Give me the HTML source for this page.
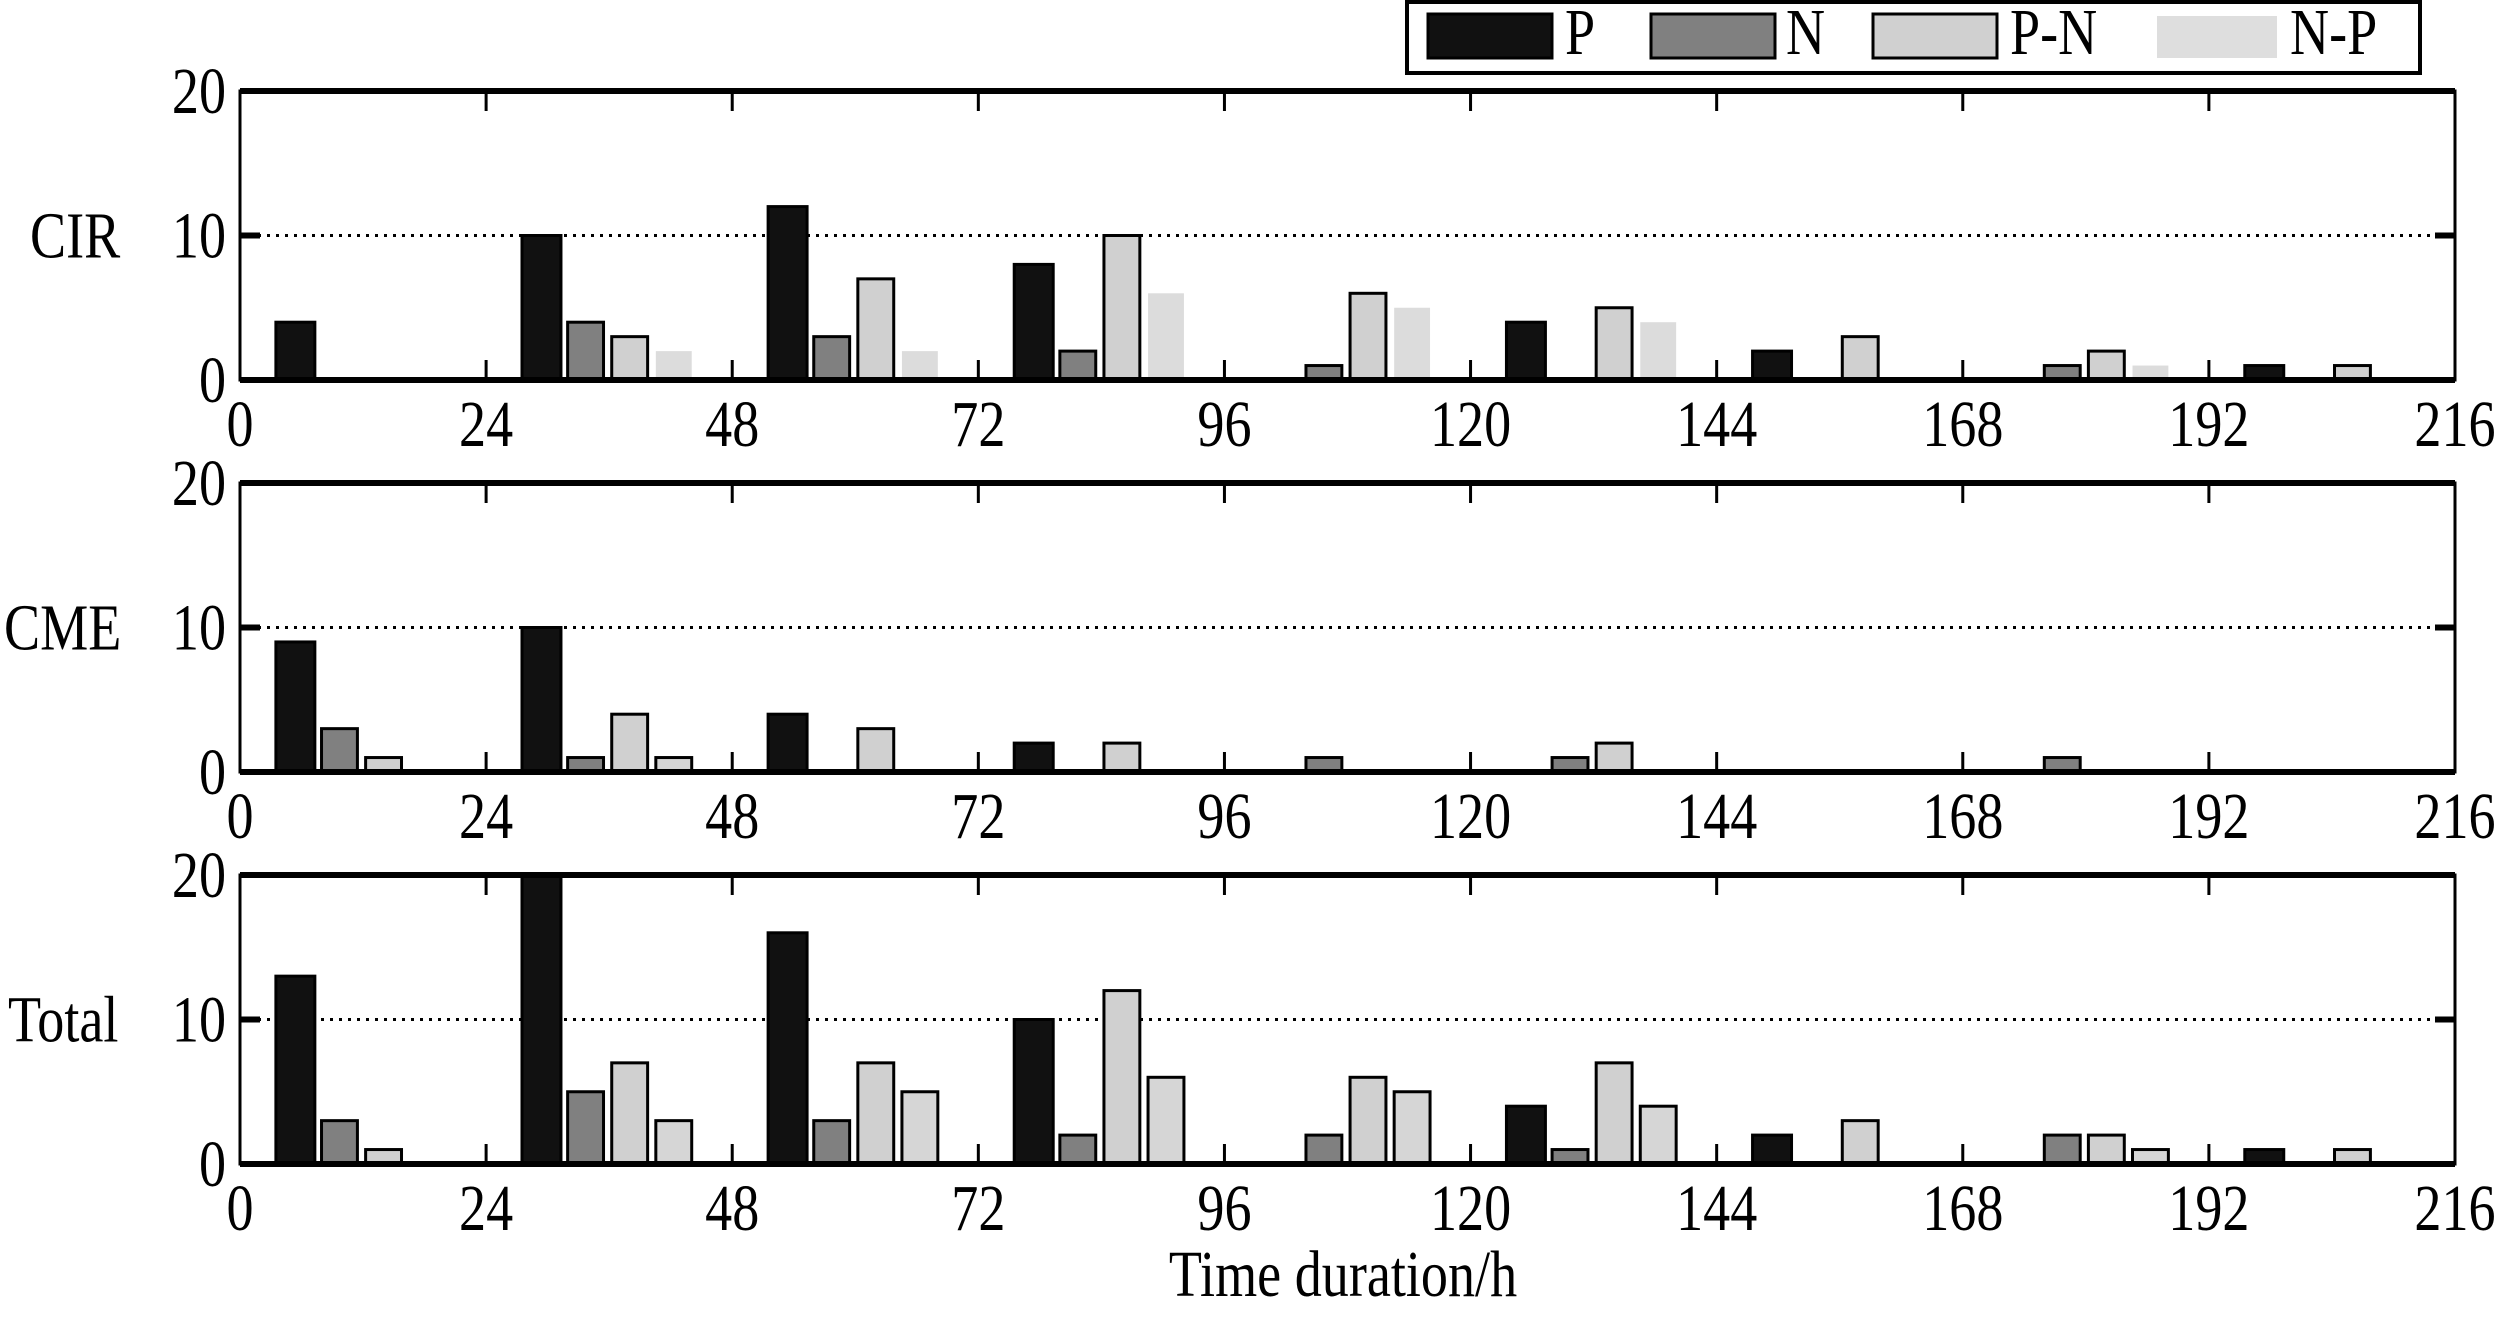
<!DOCTYPE html>
<html><head><meta charset="utf-8"><style>
html,body{margin:0;padding:0;background:#fff;}
svg{display:block;font-family:"Liberation Serif",serif;}
</style></head><body>
<svg id="chart" width="2506" height="1318" viewBox="0 0 2506 1318" xmlns="http://www.w3.org/2000/svg">
<g id="legend">
<rect x="1407" y="2" width="1013" height="71" fill="#fff" stroke="#000" stroke-width="4"/>
<rect x="1428" y="14" width="124" height="44" fill="#111" stroke="#000" stroke-width="3"/>
<rect x="1651" y="14" width="124" height="44" fill="#808080" stroke="#000" stroke-width="3"/>
<rect x="1873" y="14" width="124" height="44" fill="#d0d0d0" stroke="#000" stroke-width="3"/>
<rect x="2157" y="16" width="120" height="42" fill="#dedede"/>
</g>
</svg>
<script>
const groups=[0,24,48,72,96,120,144,168,192];
const xTicks=[0,24,48,72,96,120,144,168,192,216];
const yTicks=[0,10,20];
const seriesNames=["P","N","P-N","N-P"];
const panelNames=["CIR","CME","Total"];
const cirP=[4,10,12,8,0,4,2,0,1];
const cirN=[0,4,3,2,1,0,0,1,0];
const cirPN=[0,3,7,10,6,5,3,2,1];
const cirNP=[0,2,2,6,5,4,0,1,0];
const cmeP=[9,10,4,2,0,0,0,0,0];
const cmeN=[3,1,0,0,1,1,0,1,0];
const cmePN=[1,4,3,2,0,2,0,0,0];
const cmeNP=[0,1,0,0,0,0,0,0,0];
const totP=[13,20,16,10,0,4,2,0,1];
const totN=[3,5,3,2,2,1,0,2,0];
const totPN=[1,7,7,12,6,7,3,2,1];
const totNP=[0,3,5,6,5,4,0,1,0];

const NS="http://www.w3.org/2000/svg";
const svg=document.getElementById('chart');
const X0=240,X1=2455;
const xs=h=>X0+(X1-X0)*h/216;
const panelTops=[91,483,875],PH=289;
const fills=["#111","#808080","#d0d0d0","#dcdcdc"];
const offs=[5.4,9.7,14.0,18.3];
const widths=[3.8,3.5,3.5,3.5];
const data=[[cirP,cirN,cirPN,cirNP],[cmeP,cmeN,cmePN,cmeNP],[totP,totN,totPN,totNP]];
function mk(tag,attrs,parent){const e=document.createElementNS(NS,tag);for(const k in attrs)e.setAttribute(k,attrs[k]);(parent||svg).appendChild(e);return e;}
function txt(s,x,y,anchor,parent){const t=mk('text',{x:0,y:0,'font-size':66,'text-anchor':anchor,transform:`translate(${x},${y}) scale(0.82,1)`},parent);t.textContent=s;return t;}

panelNames.forEach((pn,pi)=>{
  const top=panelTops[pi],bot=top+PH;
  const ys=v=>bot-PH*v/20;
  const g=mk('g',{});
  
  
  // dotted gridline at 10
  const gl=mk('line',{x1:X0,x2:X1,y1:ys(10),y2:ys(10),stroke:'#000','stroke-width':3,'stroke-dasharray':'3,6'},g);
  
  
  // bars
  data[pi].forEach((arr,si)=>{
    arr.forEach((v,gi)=>{
      if(v<=0)return;
      const cx=xs(groups[gi]+offs[si]),w=xs(widths[si])-xs(0);
      const noBorder=(si===3&&pi===0);
      const r=mk('rect',{x:cx-w/2,y:ys(v),width:w,height:ys(0)-ys(v),fill:(si===3&&pi>0)?'#d6d6d6':fills[si],stroke:noBorder?'none':'#000','stroke-width':3},g);
      
      
    });
  });
  // frame
  const fr=mk('rect',{x:X0,y:top,width:X1-X0,height:PH,fill:'none',stroke:'#000','stroke-width':3},g);
  
  
  mk('line',{x1:X0,x2:X1,y1:top,y2:top,stroke:'#000','stroke-width':6},g);
  mk('line',{x1:X0,x2:X1,y1:bot,y2:bot,stroke:'#000','stroke-width':6},g);
  // x ticks
  xTicks.forEach(t=>{
    const x=xs(t);
    if(t>0&&t<216){
      mk('line',{x1:x,x2:x,y1:top,y2:top+20,stroke:'#000','stroke-width':3},g);
      mk('line',{x1:x,x2:x,y1:bot,y2:bot-20,stroke:'#000','stroke-width':3},g);
    }
    const l=txt(String(t),x,bot+66,'middle',g);
    
    
  });
  // y ticks
  yTicks.forEach(t=>{
    const y=ys(t);
    mk('line',{x1:X0,x2:X0+20,y1:y,y2:y,stroke:'#000','stroke-width':6},g);
    mk('line',{x1:X1,x2:X1-20,y1:y,y2:y,stroke:'#000','stroke-width':6},g);
    const l=txt(String(t),226,y+22,'end',g);
    
    
  });
  const lab=txt(pn,pi===1?4:(pi===0?30:8),ys(10)+22,'start',g);
  
  
});
const xt=txt('Time duration/h',1343,1296,'middle');


const lg=document.getElementById('legend');
const lx=[1565,1786,2010,2290];
seriesNames.forEach((s,i)=>{
  const t=txt(s,lx[i],54,'start',lg);
  
  
});
</script>
</body></html>
